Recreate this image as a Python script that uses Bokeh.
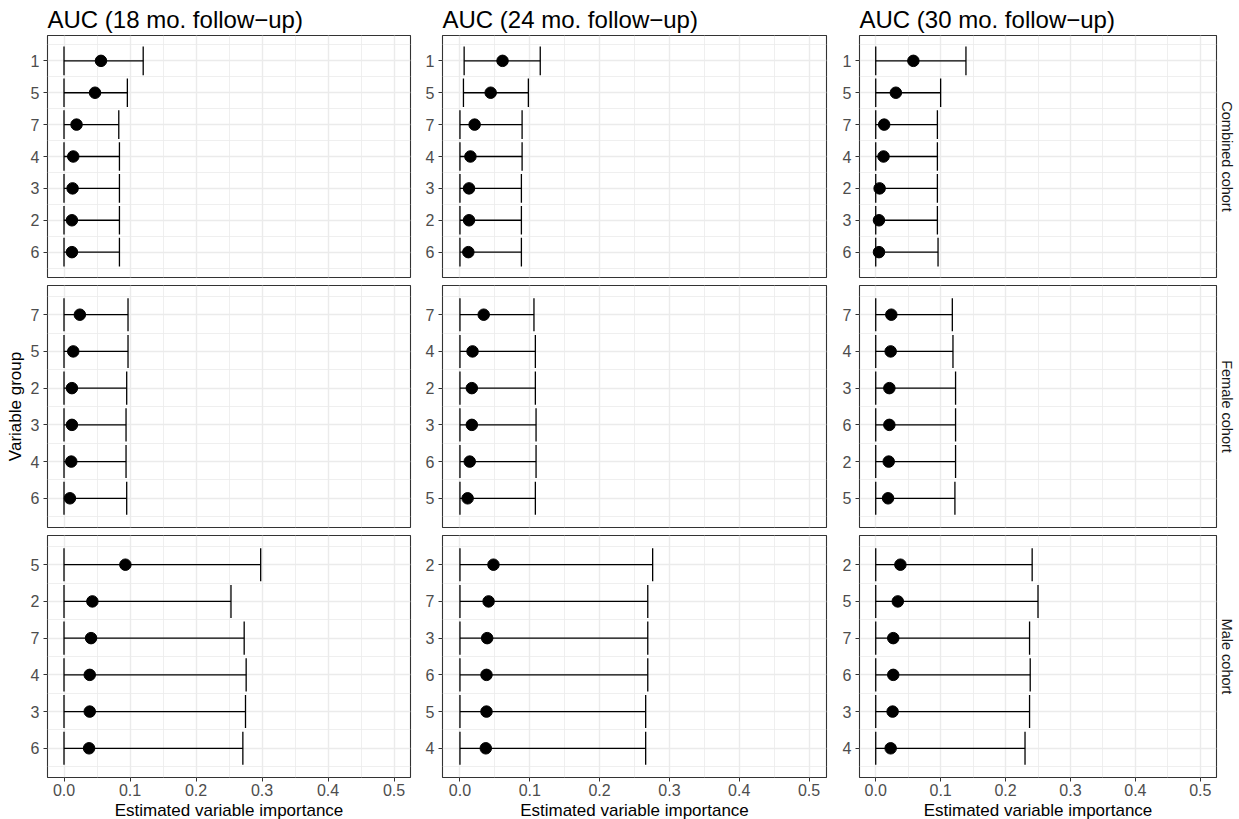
from bokeh.plotting import figure
from bokeh.layouts import row, column
from bokeh.models import FixedTicker, LinearAxis, Range1d, ColumnDataSource
from bokeh.embed import file_html
from bokeh.resources import INLINE

# ---------------- data ----------------
followups = ["AUC (18 mo. follow\u2212up)", "AUC (24 mo. follow\u2212up)", "AUC (30 mo. follow\u2212up)"]
cohorts = ["Combined cohort", "Female cohort", "Male cohort"]

x_ticks = [0.0, 0.1, 0.2, 0.3, 0.4, 0.5]
x_tick_labels = ["0.0", "0.1", "0.2", "0.3", "0.4", "0.5"]
x_minor = [0.05, 0.15, 0.25, 0.35, 0.45]

comb18_groups = ["1", "5", "7", "4", "3", "2", "6"]
comb18_est = [0.056, 0.047, 0.019, 0.014, 0.013, 0.012, 0.012]
comb18_lo = [0.0, 0.0, 0.0, 0.0, 0.0, 0.0, 0.0]
comb18_hi = [0.120, 0.096, 0.083, 0.084, 0.084, 0.084, 0.084]

comb24_groups = ["1", "5", "7", "4", "3", "2", "6"]
comb24_est = [0.061, 0.044, 0.021, 0.015, 0.013, 0.013, 0.012]
comb24_lo = [0.006, 0.005, 0.0, 0.0, 0.0, 0.0, 0.0]
comb24_hi = [0.115, 0.098, 0.089, 0.089, 0.088, 0.088, 0.088]

comb30_groups = ["1", "5", "7", "4", "2", "3", "6"]
comb30_est = [0.058, 0.031, 0.013, 0.012, 0.006, 0.005, 0.005]
comb30_lo = [0.0, 0.0, 0.0, 0.0, 0.0, 0.0, 0.0]
comb30_hi = [0.139, 0.100, 0.095, 0.095, 0.095, 0.095, 0.096]

fem18_groups = ["7", "5", "2", "3", "4", "6"]
fem18_est = [0.024, 0.014, 0.012, 0.012, 0.011, 0.009]
fem18_lo = [0.0, 0.0, 0.0, 0.0, 0.0, 0.0]
fem18_hi = [0.097, 0.097, 0.095, 0.094, 0.094, 0.095]

fem24_groups = ["7", "4", "2", "3", "6", "5"]
fem24_est = [0.034, 0.018, 0.017, 0.017, 0.014, 0.011]
fem24_lo = [0.0, 0.0, 0.0, 0.0, 0.0, 0.0]
fem24_hi = [0.106, 0.108, 0.108, 0.109, 0.109, 0.108]

fem30_groups = ["7", "4", "3", "6", "2", "5"]
fem30_est = [0.024, 0.023, 0.021, 0.021, 0.020, 0.019]
fem30_lo = [0.0, 0.0, 0.0, 0.0, 0.0, 0.0]
fem30_hi = [0.118, 0.119, 0.123, 0.123, 0.123, 0.122]

male18_groups = ["5", "2", "7", "4", "3", "6"]
male18_est = [0.093, 0.043, 0.041, 0.039, 0.039, 0.038]
male18_lo = [0.0, 0.0, 0.0, 0.0, 0.0, 0.0]
male18_hi = [0.298, 0.253, 0.273, 0.276, 0.275, 0.271]

male24_groups = ["2", "7", "3", "6", "5", "4"]
male24_est = [0.048, 0.041, 0.039, 0.038, 0.038, 0.037]
male24_lo = [0.0, 0.0, 0.0, 0.0, 0.0, 0.0]
male24_hi = [0.276, 0.269, 0.269, 0.269, 0.266, 0.266]

male30_groups = ["2", "5", "7", "6", "3", "4"]
male30_est = [0.038, 0.034, 0.027, 0.027, 0.026, 0.023]
male30_lo = [0.0, 0.0, 0.0, 0.0, 0.0, 0.0]
male30_hi = [0.241, 0.250, 0.237, 0.238, 0.237, 0.230]

panels = [
    [(comb18_groups, comb18_est, comb18_lo, comb18_hi),
     (comb24_groups, comb24_est, comb24_lo, comb24_hi),
     (comb30_groups, comb30_est, comb30_lo, comb30_hi)],
    [(fem18_groups, fem18_est, fem18_lo, fem18_hi),
     (fem24_groups, fem24_est, fem24_lo, fem24_hi),
     (fem30_groups, fem30_est, fem30_lo, fem30_hi)],
    [(male18_groups, male18_est, male18_lo, male18_hi),
     (male24_groups, male24_est, male24_lo, male24_hi),
     (male30_groups, male30_est, male30_lo, male30_hi)],
]

# ---------------- layout / style ----------------
FONT = "Liberation Sans"
col_frame_w = [363, 384, 357]
col_border_l = [47, 28, 28]
col_border_r = [4, 5, 23]
row_border_t = [35, 4, 4]
row_border_b = [4, 4, 42]
FRAME_H = 242
CAP = 0.45

rows = []
for r in range(3):
    figs = []
    for c in range(3):
        groups, est, lo, hi = panels[r][c]
        n = len(groups)
        ypos = [n - i for i in range(n)]
        src = ColumnDataSource(dict(
            y=ypos, est=est, lo=lo, hi=hi,
            ylo=[v - CAP for v in ypos], yhi=[v + CAP for v in ypos]))
        p = figure(frame_width=col_frame_w[c], frame_height=FRAME_H,
                   x_range=Range1d(-0.025, 0.525),
                   y_range=Range1d(0.205, n + 0.795),
                   output_backend="svg", toolbar_location=None,
                   min_border_left=col_border_l[c], min_border_right=col_border_r[c],
                   min_border_top=row_border_t[r], min_border_bottom=row_border_b[r],
                   background_fill_color="white", border_fill_color="white")
        p.outline_line_color = "#333333"
        p.outline_line_width = 1.1

        # grids
        p.xgrid.ticker = FixedTicker(ticks=x_ticks, minor_ticks=x_minor)
        p.ygrid.ticker = FixedTicker(ticks=ypos, minor_ticks=[v + 0.5 for v in range(n + 1)])
        for g in (p.xgrid, p.ygrid):
            g.grid_line_color = "#EBEBEB"
            g.grid_line_width = 1.4
            g.minor_grid_line_color = "#EBEBEB"
            g.minor_grid_line_width = 0.8

        # y axis
        ya = p.yaxis[0]
        ya.ticker = FixedTicker(ticks=ypos)
        ya.major_label_overrides = {ypos[i]: groups[i] for i in range(n)}
        ya.axis_line_color = None
        ya.major_tick_out = 4
        ya.major_tick_in = 0
        ya.major_tick_line_color = "#333333"
        ya.minor_tick_line_color = None
        ya.major_label_text_font = FONT
        ya.major_label_text_font_size = "16px"
        ya.major_label_text_color = "#4D4D4D"
        ya.major_label_standoff = 4
        if r == 1 and c == 0:
            ya.axis_label = "Variable group"
            ya.axis_label_text_font = FONT
            ya.axis_label_text_font_size = "17px"
            ya.axis_label_text_font_style = "normal"
            ya.axis_label_text_color = "black"
            ya.axis_label_standoff = 3

        # x axis
        xa = p.xaxis[0]
        xa.ticker = FixedTicker(ticks=x_ticks)
        if r == 2:
            xa.major_label_overrides = {x_ticks[i]: x_tick_labels[i] for i in range(len(x_ticks))}
            xa.axis_line_color = None
            xa.major_tick_out = 4
            xa.major_tick_in = 0
            xa.major_tick_line_color = "#333333"
            xa.minor_tick_line_color = None
            xa.major_label_text_font = FONT
            xa.major_label_text_font_size = "16px"
            xa.major_label_text_color = "#4D4D4D"
            xa.major_label_standoff = 2
            xa.axis_label = "Estimated variable importance"
            xa.axis_label_text_font = FONT
            xa.axis_label_text_font_size = "17px"
            xa.axis_label_text_font_style = "normal"
            xa.axis_label_text_color = "black"
            xa.axis_label_standoff = 2
        else:
            xa.visible = False

        # facet strip (right)
        if c == 2:
            sa = LinearAxis(ticker=FixedTicker(ticks=[]), axis_label=cohorts[r])
            sa.axis_line_color = None
            sa.major_tick_line_color = None
            sa.minor_tick_line_color = None
            sa.major_tick_out = 0
            sa.major_label_standoff = 0
            sa.major_label_text_font_size = "0px"
            sa.axis_label_text_font = FONT
            sa.axis_label_text_font_size = "14.5px"
            sa.axis_label_text_font_style = "normal"
            sa.axis_label_text_color = "#1A1A1A"
            sa.axis_label_standoff = 2
            p.add_layout(sa, "right")

        # title
        if r == 0:
            p.title.text = followups[c]
            p.title.text_font = FONT
            p.title.text_font_size = "24px"
            p.title.text_font_style = "normal"
            p.title.text_color = "black"
            p.title.align = "left"
            p.title.standoff = 5

        # marks
        p.segment(x0="lo", y0="y", x1="hi", y1="y", source=src, line_color="black", line_width=1.3)
        p.segment(x0="lo", y0="ylo", x1="lo", y1="yhi", source=src, line_color="black", line_width=1.3)
        p.segment(x0="hi", y0="ylo", x1="hi", y1="yhi", source=src, line_color="black", line_width=1.3)
        p.scatter(x="est", y="y", source=src, size=11.5, fill_color="black", line_color="black")
        figs.append(p)
    rows.append(row(*figs, spacing=0))

layout = column(*rows, spacing=0)
open("out.html", "w").write(file_html(layout, INLINE))
